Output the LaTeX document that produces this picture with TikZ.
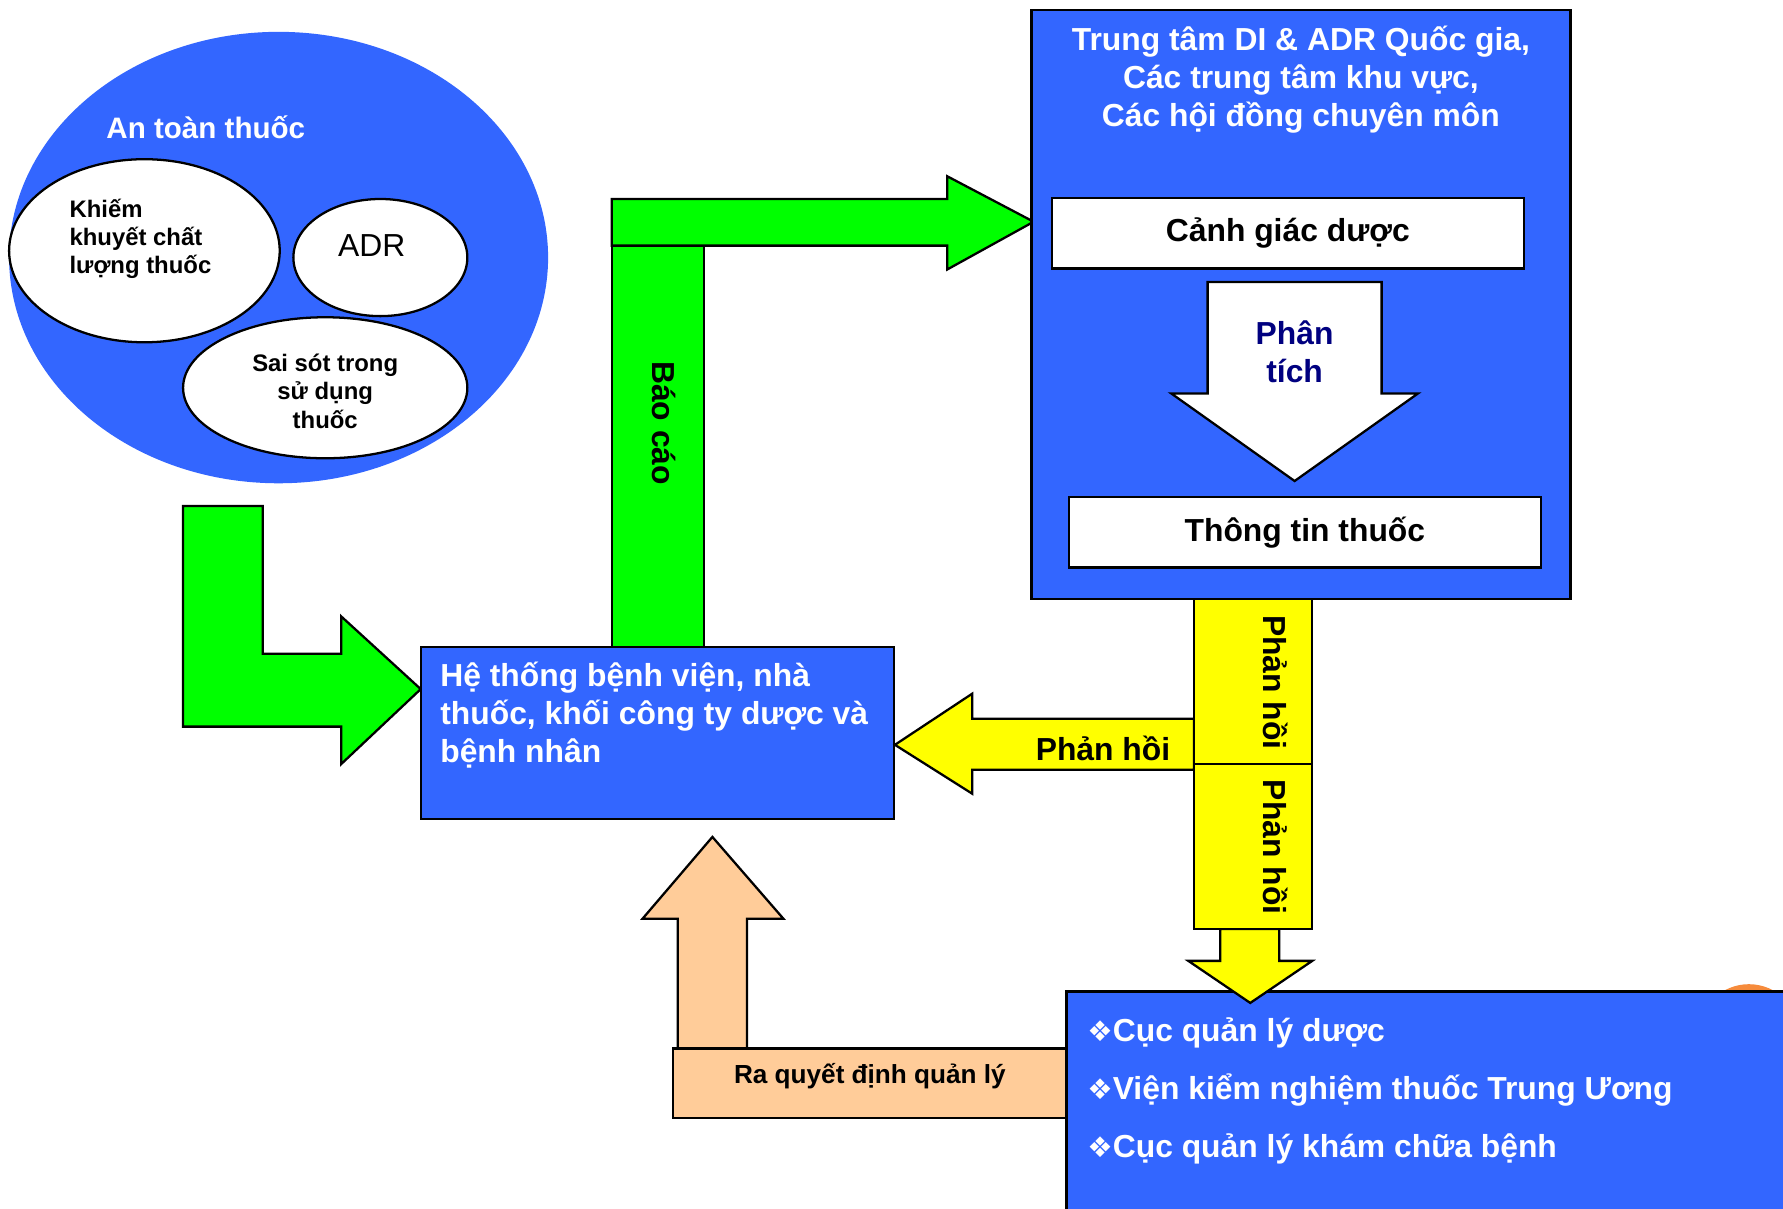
\documentclass[tikz,border=0pt]{standalone}
\usepackage{fontspec}
\setmainfont{Liberation Sans}
\newfontfamily\dejavu{DejaVu Sans}
\usetikzlibrary{shapes.geometric}
\definecolor{bblue}{HTML}{3366FF}
\definecolor{bgreen}{HTML}{00FF00}
\definecolor{byellow}{HTML}{FFFF00}
\definecolor{peach}{HTML}{FFCC99}
\definecolor{navytxt}{HTML}{000080}
\definecolor{orangedot}{HTML}{F68B3C}
\begin{document}
\begin{tikzpicture}[x=1pt,y=-1pt,
  blk/.style={draw=black, line width=2pt, line join=miter},
  bluebox/.style={blk, fill=bblue, rectangle, inner sep=0pt},
  whitebox/.style={blk, fill=white, rectangle, inner sep=0pt},
  oval/.style={blk, fill=white, ellipse, inner sep=0pt},
  btxt/.style={font=\bfseries\fontsize{28}{33.5}\selectfont},
  stxt/.style={font=\bfseries\fontsize{21}{25}\selectfont},
  wtxt/.style={btxt, text=white},
  bul/.style={anchor=west, wtxt, inner sep=0pt},
  bulmark/.style={},
]
\useasboundingbox (0,0) rectangle (1568,1063);
\fill[white] (0,0) rectangle (1568,1063);
\clip (0,0) rectangle (1568,1063);

% ---- An toan thuoc cluster
\node[ellipse, fill=bblue, minimum width=474pt, minimum height=397pt, inner sep=0pt] (safety) at (245,226.5) {};
\node[oval, minimum width=238pt, minimum height=161pt] (quality) at (127,220.5) {};
\node[oval, minimum width=153pt, minimum height=103pt] (adr) at (334.5,226.5) {};
\node[oval, minimum width=250pt, minimum height=124pt] (usage) at (286,341) {};
\node[wtxt, font=\bfseries\fontsize{26}{31}\selectfont] (safetitle) at (181,112) {An toàn thuốc};
\node[stxt, align=left, anchor=west, inner sep=0pt] (qualitytxt) at (61,210) {Khiếm\\khuyết chất\\lượng thuốc};
\node[font=\fontsize{28}{33}\selectfont] (adrtxt) at (327,216) {ADR};
\node[stxt, align=center] (usagetxt) at (286,344) {Sai sót trong\\sử dụng\\thuốc};

% ---- green L arrow into hospital system
\draw[blk, fill=bgreen] (161,445) -- (231,445) -- (231,575) -- (300,575) -- (300,542)
  -- (370,606) -- (300,672) -- (300,639) -- (161,639) -- cycle;

% ---- hospital system box
\node[bluebox, minimum width=416pt, minimum height=151pt] (hosp) at (578,644.5) {};
\node[wtxt, align=left, anchor=west, inner sep=0pt] (hosptxt) at (387,629) {Hệ thống bệnh viện, nhà\\thuốc, khối công ty dược và\\bệnh nhân};

% ---- Bao cao arrow
\draw[blk, fill=bgreen] (538,216) rectangle (619,569);
\draw[blk, fill=bgreen] (538,175) -- (833,175) -- (833,155) -- (909,195) -- (833,237)
  -- (833,216) -- (538,216) -- cycle;
\node[btxt, rotate=-90] (reportlbl) at (584,372) {Báo cáo};

% ---- national centre box
\node[bluebox, minimum width=474pt, minimum height=518pt] (centre) at (1144,268) {};
\node[wtxt, align=center] (centretxt) at (1144,70) {Trung tâm DI \& ADR Quốc gia,\\Các trung tâm khu vực,\\Các hội đồng chuyên môn};
\node[whitebox, minimum width=415pt, minimum height=62pt, btxt] (pv) at (1132.5,205) {Cảnh giác dược};
\draw[blk, fill=white] (1062,248) -- (1215,248) -- (1215,346) -- (1247,346) -- (1138.5,423)
  -- (1030,346) -- (1062,346) -- cycle;
\node[btxt, text=navytxt, align=center] (analysis) at (1138.5,309) {Phân\\tích};
\node[whitebox, minimum width=415pt, minimum height=62pt, btxt] (di) at (1147.5,468) {Thông tin thuốc};

% ---- yellow feedback arrow to hospital
\draw[blk, fill=byellow] (1050,632) -- (855,632) -- (855,610) -- (787,655) -- (855,698)
  -- (855,677) -- (1050,677) -- cycle;
\node[btxt] (fb1) at (970,658) {Phản hồi};

% ---- orange dot behind bottom box
\fill[orangedot] (1538,910) circle (44.5);

% ---- bottom authorities box
\draw[blk, fill=bblue] (1600,872) -- (938,872) -- (938,1100);
\fill[bblue] (939,873) rectangle (1600,1100);
\node[bul] (b1) at (956,908) {{\dejavu\fontsize{25}{25}\selectfont ❖}Cục quản lý dược};
\node[bul] (b2) at (956,959) {{\dejavu\fontsize{25}{25}\selectfont ❖}Viện kiểm nghiệm thuốc Trung Ương};
\node[bul] (b3) at (956,1010) {{\dejavu\fontsize{25}{25}\selectfont ❖}Cục quản lý khám chữa bệnh};

% ---- yellow down arrow
\draw[blk, fill=byellow] (1073,817) -- (1125,817) -- (1125,845) -- (1154,845) -- (1099.5,882)
  -- (1045,845) -- (1073,845) -- cycle;

% ---- yellow column
\node[rectangle, blk, fill=byellow, minimum width=104pt, minimum height=145pt, inner sep=0pt] (col1) at (1102,599.5) {};
\node[rectangle, blk, fill=byellow, minimum width=104pt, minimum height=145pt, inner sep=0pt] (col2) at (1102,744.5) {};
\node[btxt, rotate=-90] (fb2) at (1122,600) {Phản hồi};
\node[btxt, rotate=-90] (fb3) at (1122,745) {Phản hồi};

% ---- management decision
\draw[blk, fill=peach] (596,922) -- (596,808) -- (565,808) -- (626.5,736) -- (689,808)
  -- (657,808) -- (657,922) -- cycle;
\node[rectangle, blk, fill=peach, minimum width=346pt, minimum height=61pt, inner sep=0pt] (decision) at (765,952.5) {};
\node[font=\bfseries\fontsize{23}{27}\selectfont] (decisiontxt) at (765,946) {Ra quyết định quản lý};
\end{tikzpicture}
\end{document}
